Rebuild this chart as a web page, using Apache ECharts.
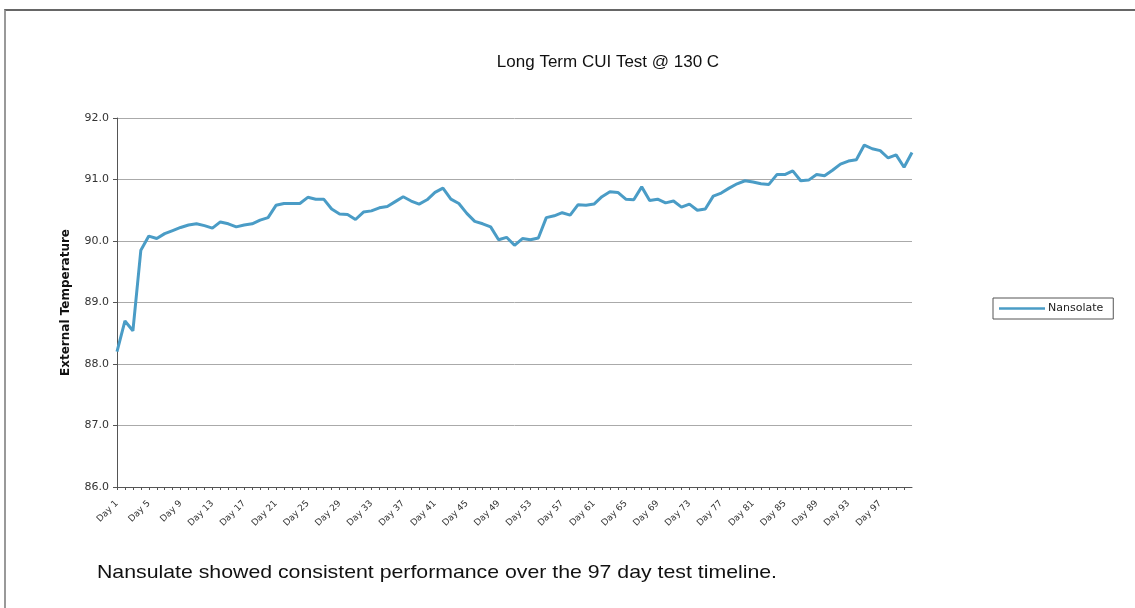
<!DOCTYPE html>
<html>
<head>
<meta charset="utf-8">
<script src="https://cdn.jsdelivr.net/npm/echarts@6/dist/echarts.min.js"></script>
<style>
  body { margin: 0; background: #fff; }
  #frame {
    position: absolute; left: 4px; top: 9px; width: 1140px; height: 610px;
    border-top: 2px solid #666; border-left: 2px solid #999;
  }
  #main { position: absolute; left: 0; top: 0; width: 1135px; height: 608px; }
  #caption {
    position: absolute; left: 97px; top: 561px; white-space: nowrap;
    font-family: "Liberation Sans", Arial, sans-serif; font-size: 18.5px; color: #111;
    transform: scaleX(1.15); transform-origin: left top;
  }
</style>
</head>
<body>
<div id="frame"></div>
<div id="main"></div>
<div id="caption">Nansulate showed consistent performance over the 97 day test timeline.</div>
<script>
// one reading per test day, Day 1 .. Day 101
var days = [];
for (var d = 1; d <= 101; d++) days.push('Day ' + d);

var nansolate = [
  88.20, 88.70, 88.54, 89.85, 90.08, 90.04, 90.12, 90.17, 90.22, 90.26,
  90.28, 90.25, 90.21, 90.31, 90.28, 90.23, 90.26, 90.28, 90.34, 90.38,
  90.58, 90.61, 90.61, 90.61, 90.71, 90.68, 90.68, 90.52, 90.44, 90.43,
  90.35, 90.47, 90.49, 90.54, 90.56, 90.64, 90.72, 90.65, 90.60, 90.67,
  90.79, 90.86, 90.68, 90.61, 90.45, 90.32, 90.28, 90.23, 90.02, 90.06,
  89.93, 90.04, 90.02, 90.05, 90.38, 90.41, 90.46, 90.42, 90.59, 90.58,
  90.60, 90.72, 90.80, 90.79, 90.68, 90.67, 90.88, 90.66, 90.68, 90.62,
  90.65, 90.55, 90.60, 90.50, 90.52, 90.73, 90.78, 90.86, 90.93, 90.98,
  90.96, 90.93, 90.92, 91.08, 91.08, 91.14, 90.98, 90.99, 91.08, 91.06,
  91.15, 91.25, 91.30, 91.32, 91.56, 91.50, 91.47, 91.35, 91.40, 91.20,
  91.44
];

var yMin = 86, yMax = 92, yStep = 1;

var chart = echarts.init(document.getElementById('main'));
chart.setOption({
  animation: false,
  title: {
    text: 'Long Term CUI Test @ 130 C',
    left: 603, top: 49, textAlign: 'center',
    textStyle: { fontFamily: 'Liberation Sans', fontSize: 17, fontWeight: 'normal', color: '#111' }
  },
  legend: {
    left: 993, top: 298,
    orient: 'vertical',
    padding: [5, 10, 5, 6],
    borderColor: '#555', borderWidth: 1,
    itemWidth: 46, itemHeight: 12, itemGap: 4,
    icon: 'path://M0,4.8L46,4.8L46,7.2L0,7.2Z',
    textStyle: { fontFamily: 'DejaVu Sans', fontSize: 11, color: '#222', padding: [0, 0, 0, -2] },
    data: ['Nansolate']
  },
  grid: { left: 117, right: 223, top: 118, bottom: 121 },
  xAxis: {
    type: 'category',
    data: days,
    boundaryGap: false,
    axisLine: { lineStyle: { color: '#555', width: 1 } },
    axisTick: { interval: 0, length: 3, lineStyle: { color: '#555' } },
    axisLabel: {
      interval: 3, rotate: 45, margin: 15, showMaxLabel: false,
      fontFamily: 'DejaVu Sans', fontSize: 9, color: '#333'
    },
    splitLine: { show: false }
  },
  yAxis: {
    type: 'value',
    min: yMin, max: yMax, interval: yStep,
    name: 'External Temperature',
    nameLocation: 'middle', nameRotate: 90, nameGap: 45,
    nameTextStyle: { fontFamily: 'DejaVu Sans', fontSize: 12, fontWeight: 'bold', color: '#111' },
    axisLine: { show: true, lineStyle: { color: '#555', width: 1 } },
    axisTick: { show: true, length: 4, lineStyle: { color: '#555' } },
    axisLabel: {
      formatter: function (v) { return v.toFixed(1); },
      fontFamily: 'DejaVu Sans', fontSize: 11, color: '#333', margin: 8
    },
    splitLine: { lineStyle: { color: '#aaa', width: 1 } }
  },
  series: [{
    name: 'Nansolate',
    type: 'line',
    data: nansolate,
    symbol: 'none',
    lineStyle: { color: '#4a9cc6', width: 3 },
    itemStyle: { color: '#4a9cc6' }
  }]
});
</script>
</body>
</html>
